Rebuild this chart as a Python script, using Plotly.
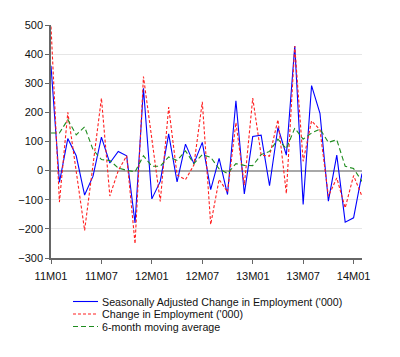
import plotly.graph_objects as go

months = [f"{y:02d}M{m:02d}" for y in (11, 12, 13, 14) for m in range(1, 13)][:38]
tick_labels = ["11M01", "11M07", "12M01", "12M07", "13M01", "13M07", "14M01"]

sa_change = [360, -40, 110, 51, -84, -19, 115, 26, 66, 51,
             -180, 283, -97, -37, 126, -39, 91, 24, 97, -65,
             42, -82, 240, -80, 117, 122, -52, 148, 53, 428,
             -116, 292, 197, -105, 53, -177, -162, -10]
change = [495, -108, 200, 0, -205, 20, 249, -87, 0, 51,
          -251, 323, 100, -106, 218, -15, -31, 19, 236, -185,
          -30, -74, 165, -50, 249, 53, 50, 175, -79, 428,
          32, 171, 140, -88, -25, -128, -17, -88]
ma6 = [129, 129, 175, 123, 150, 72, 38, 35, 9, 1,
       -4, 51, 15, 15, 47, 35, 68, 24, 55, 46,
       6, -10, 24, 18, 17, 55, 66, 108, 75, 146,
       108, 129, 143, 97, 106, 15, 7, -37]

series = [
    ("Seasonally Adjusted Change in Employment ('000)", sa_change, "#0000FF", "solid"),
    ("Change in Employment ('000)", change, "#FF2020", "3px,2px"),
    ("6-month moving average", ma6, "#1E8C1E", "5px,3px"),
]

# The page body has an 8px margin, so the figure is drawn 8px right/down.
OFF = 8
W, H = 384, 341
ML, MT = 51 - OFF, 25 - OFF
PW, PH = 311, 233
MR, MB = W - ML - PW, H - MT - PH

def px_x(p):
    return (p - OFF - ML) / PW

def px_y(p):
    return (MT + PH - (p - OFF)) / PH

fig = go.Figure()
shapes, annotations = [], []
legend_rows = [301.5, 314, 326.5]
for (name, vals, color, dash), row in zip(series, legend_rows):
    fig.add_trace(go.Scatter(x=months, y=vals, mode="lines", name=name,
                             showlegend=False,
                             line=dict(color=color, width=1.1, dash=dash)))
    shapes.append(dict(type="line", xref="paper", yref="paper",
                       x0=px_x(73), x1=px_x(98), y0=px_y(row), y1=px_y(row),
                       line=dict(color=color, width=1.1, dash=dash)))
    annotations.append(dict(xref="paper", yref="paper", x=px_x(100), y=px_y(row),
                            xanchor="left", yanchor="middle", showarrow=False,
                            text=name, font=dict(size=10.7, color="#111")))

fig.update_layout(
    width=W, height=H,
    margin=dict(l=ML, r=MR, t=MT, b=MB, autoexpand=False),
    paper_bgcolor="white", plot_bgcolor="white",
    font=dict(family="Liberation Sans, Arial, sans-serif", size=11, color="#111"),
    showlegend=False,
    shapes=shapes, annotations=annotations,
)
fig.update_xaxes(
    type="category", range=[0, 37],
    tickmode="array", tickvals=tick_labels, ticktext=tick_labels,
    showgrid=False, zeroline=False,
    showline=True, linecolor="#666", linewidth=1.5,
    ticks="outside", ticklen=4, tickcolor="#666", ticklabelstandoff=3,
)
fig.update_yaxes(
    range=[-300, 500], dtick=100, tick0=0,
    showgrid=True, gridcolor="#e6e6e6", gridwidth=1,
    zeroline=True, zerolinecolor="#a8a8a8", zerolinewidth=2,
    showline=True, linecolor="#666", linewidth=1.5,
    ticks="outside", ticklen=4, tickcolor="#666",
)

fig.write_html("out.html")
